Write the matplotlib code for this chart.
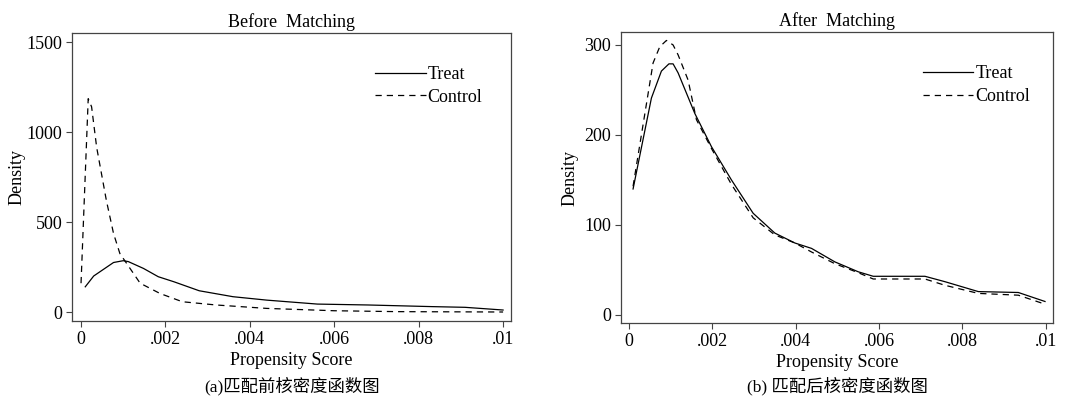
import numpy as np
import matplotlib
matplotlib.use("Agg")
import matplotlib.pyplot as plt

plt.rcParams['font.family'] = ['Liberation Serif', 'Noto Sans CJK SC']
plt.rcParams['font.size'] = 13

# before matching
pre_treat_x = [0.0001, 0.0003, 0.00077, 0.001, 0.00112, 0.00148, 0.00183, 0.0022,
               0.0028, 0.0036, 0.0044, 0.0056, 0.0068, 0.0083, 0.0091, 0.01]
pre_treat_y = [140, 200, 275, 285, 280, 242, 196, 168, 118, 85, 66, 44, 39, 30, 26, 11]
pre_ctrl_x = [0.0, 0.00017, 0.00025, 0.00037, 0.0006, 0.00077, 0.00092, 0.00108,
              0.0014, 0.00187, 0.0024, 0.0032, 0.0044, 0.006, 0.0075, 0.01]
pre_ctrl_y = [160, 1185, 1140, 915, 620, 436, 325, 270, 160, 103, 57, 39, 20, 7, 2, 0]

# after matching
post_treat_x = [0.0001, 0.00054, 0.00078, 0.00096, 0.00106, 0.00118, 0.00158, 0.00198,
                0.00246, 0.00298, 0.0035, 0.00398, 0.00438, 0.00494, 0.0055, 0.00586,
                0.0071, 0.00758, 0.00838, 0.00934, 0.00998]
post_treat_y = [140, 241, 271, 279, 279, 269, 224, 187, 150, 113, 91, 80, 74, 59, 48, 43,
                43, 37, 26, 25, 15]
post_ctrl_x = [0.0001, 0.00058, 0.00074, 0.0009, 0.00106, 0.00118, 0.00142, 0.00162,
               0.00198, 0.00246, 0.00298, 0.0035, 0.00398, 0.00438, 0.00494, 0.0055,
               0.00586, 0.0071, 0.00758, 0.00838, 0.00934, 0.00998]
post_ctrl_y = [143, 280, 298, 305, 300, 289, 261, 217, 185, 145, 108, 89, 80, 70, 57, 47,
               40, 40, 33, 24, 22, 12]

xticks = [0, 0.002, 0.004, 0.006, 0.008, 0.01]
xtick_labels = ['0', '.002', '.004', '.006', '.008', '.01']

fig = plt.figure(figsize=(10.9, 4.01), dpi=100)
ax1 = fig.add_axes([0.0661, 0.1995, 0.4028, 0.7182])
ax2 = fig.add_axes([0.5697, 0.1945, 0.3963, 0.7257])

panels = [
    (ax1, pre_treat_x, pre_treat_y, pre_ctrl_x, pre_ctrl_y, 'Before  Matching',
     (-50, 1550), [0, 500, 1000, 1500], (-0.000213, 0.01019), '(a)匹配前核密度函数图',
     (0.934, 0.885), 1),
    (ax2, post_treat_x, post_treat_y, post_ctrl_x, post_ctrl_y, 'After  Matching',
     (-8.9, 314.4), [0, 100, 200, 300], (-0.00019, 0.01017), '(b) 匹配后核密度函数图',
     (0.947, 0.885), 4),
]

for ax, tx, ty, cx, cy, title, ylim, yticks, xlim, cap, lpos, ypad in panels:
    ax.plot(tx, ty, color='black', lw=0.9, label='Treat')
    ax.plot(cx, cy, color='black', lw=0.9, ls=(0, (5, 4)), label='Control')
    ax.set_xlim(*xlim)
    ax.set_ylim(*ylim)
    ax.set_xticks(xticks)
    ax.set_xticklabels(xtick_labels)
    ax.set_yticks(yticks)
    ax.tick_params(direction='out', length=4, width=0.8, color='#444', labelsize=13, pad=3)
    for s in ax.spines.values():
        s.set_color('#444')
        s.set_linewidth(0.9)
    ax.set_title(title, fontsize=13, pad=4)
    ax.set_xlabel('Propensity Score', fontsize=13, labelpad=3)
    ax.set_ylabel('Density', fontsize=13, labelpad=ypad)
    ax.legend(loc='upper right', bbox_to_anchor=lpos, frameon=False, fontsize=13,
              handlelength=2.8, handletextpad=0.1, labelspacing=0.3,
              borderaxespad=0, borderpad=0)
    pos = ax.get_position()
    fig.text(pos.x0 + pos.width / 2, 1 - 386 / 401, cap,
             ha='center', va='center', fontsize=12.5)

fig.savefig('out.png', dpi=100)
